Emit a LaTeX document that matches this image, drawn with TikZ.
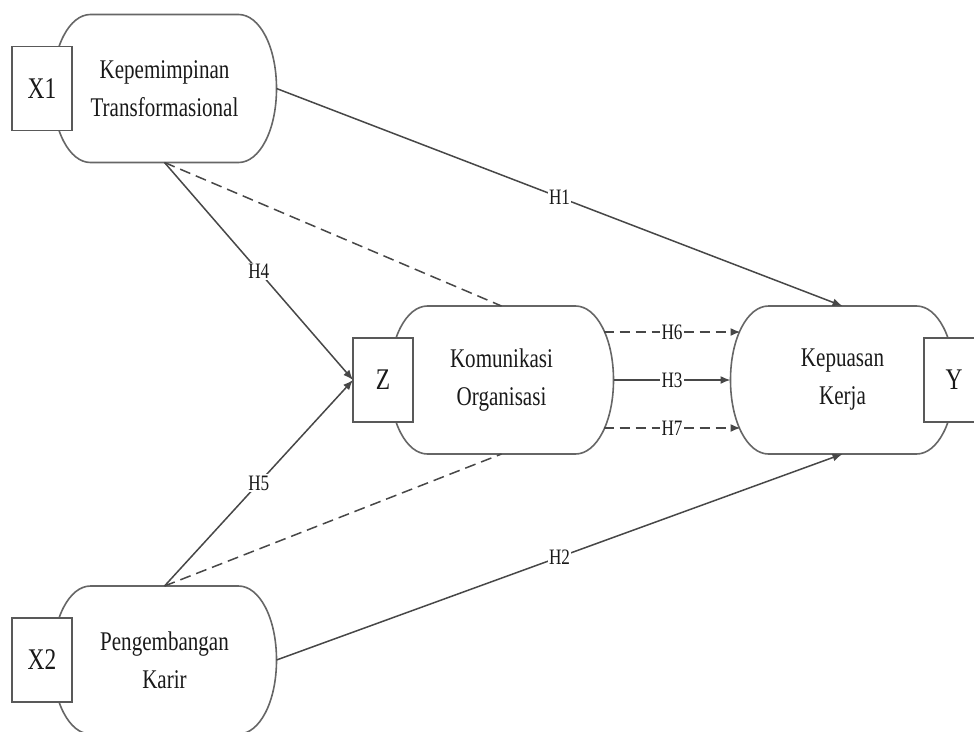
\documentclass[tikz,border=0pt]{standalone}
\usepackage{fontspec}
\setmainfont{Liberation Serif}[FakeStretch=0.78]
\usepackage{tikz}
\usetikzlibrary{arrows.meta}
\usetikzlibrary{calc}

\begin{document}
\begin{tikzpicture}[x=1pt,y=1pt,
    stad/.style={rectangle,inner sep=0pt,outer sep=0pt,minimum width=224pt,minimum height=148pt,align=center,text=black!90,font=\fontsize{27}{38}\selectfont},
    outline/.style={draw=black!60,line width=1.6pt},
    varbox/.style={rectangle,draw=black!65,line width=1.5pt,fill=white,minimum width=60pt,minimum height=84pt,inner sep=0pt,outer sep=0pt,text=black!90,font=\fontsize{30}{30}\selectfont},
    link/.style={draw=black!72,line width=1.5pt,-{Latex[length=10pt,width=8pt]}},
    dlink/.style={link,dash pattern=on 10pt off 6pt},
    dline/.style={draw=black!72,line width=1.5pt,dash pattern=on 11pt off 6pt},
    hyp/.style={fill=white,inner sep=1.5pt,text=black!90,font=\fontsize{22}{22}\selectfont}]
    \useasboundingbox (0,0) rectangle (974,-731);
    \clip (0,0) rectangle (974,-731);
    % variables
    \node[stad] (x1) at (164.5,-88.5) {Kepemimpinan\\Transformasional};
    \node[stad] (x2) at (164.5,-660) {Pengembangan\\Karir};
    \node[stad] (kom) at (501.5,-380) {Komunikasi\\Organisasi};
    \node[stad] (kep) at (842.5,-380) {Kepuasan\\Kerja};
    \foreach \n in {x1,x2,kom,kep}
      \draw[outline] ([xshift=38pt]\n.north west) -- ([xshift=-38pt]\n.north east)
        .. controls +(21,0) and +(0,42) .. (\n.east)
        .. controls +(0,-42) and +(21,0) .. ([xshift=-38pt]\n.south east)
        -- ([xshift=38pt]\n.south west)
        .. controls +(-21,0) and +(0,-42) .. (\n.west)
        .. controls +(0,42) and +(-21,0) .. ([xshift=38pt]\n.north west) -- cycle;
    \node[varbox] (x1 box) at (42,-88.5) {X1};
    \node[varbox] (x2 box) at (42,-660) {X2};
    \node[varbox] (z box) at (383,-380) {Z};
    \node[varbox] (y box) at (954,-380) {Y};
    % hypotheses
    \coordinate (kom h6) at ($(kom.east)+(-10,48)$);
    \coordinate (kep h6) at ($(kep.west)+(10,48)$);
    \coordinate (kom h7) at ($(kom.east)+(-10,-48)$);
    \coordinate (kep h7) at ($(kep.west)+(10,-48)$);
    \draw[dline] (x1.south) -- (kom.north);
    \draw[dline] (x2.north) -- (kom.south);
    \draw[link] (x1.east) -- node[hyp] {H1} (kep.north);
    \draw[link] (x2.east) -- node[hyp] {H2} (kep.south);
    \draw[link] (kom.east) -- node[hyp] {H3} (kep.west);
    \draw[link] (x1.south) -- node[hyp] {H4} (z box.west);
    \draw[link] (x2.north) -- node[hyp] {H5} (z box.west);
    \draw[dlink] (kom h6) -- node[hyp] {H6} (kep h6);
    \draw[dlink] (kom h7) -- node[hyp] {H7} (kep h7);
\end{tikzpicture}
\end{document}
